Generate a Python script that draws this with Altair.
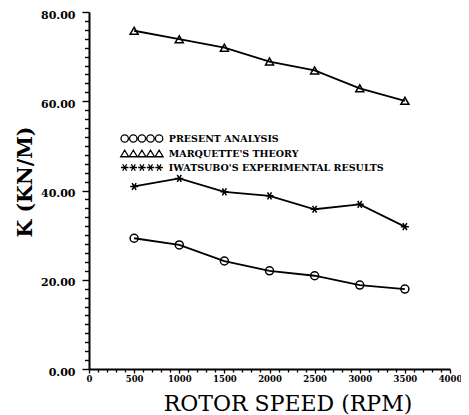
import altair as alt
import pandas as pd

# ---- data ----
rpm = [500, 1000, 1500, 2000, 2500, 3000, 3500]
present = [29.3, 27.8, 24.2, 22.0, 20.9, 18.8, 17.9]
marquette = [75.8, 73.9, 72.0, 68.9, 66.9, 62.9, 60.1]
iwatsubo = [40.9, 42.7, 39.7, 38.8, 35.8, 36.9, 31.9]
series_names = ["PRESENT ANALYSIS", "MARQUETTE'S THEORY", "IWATSUBO'S EXPERIMENTAL RESULTS"]
x_ticks = list(range(0, 4001, 100))   # labelled every 500
y_ticks = list(range(0, 81, 2))       # labelled every 20

rows = []
for name, vals in zip(series_names, [present, marquette, iwatsubo]):
    for r, v in zip(rpm, vals):
        rows.append({"rpm": r, "k": v, "series": name})
df = pd.DataFrame(rows)

# ---- marker shapes ----
asterisk = "M-1,0L1,0M-0.5,-0.87L0.5,0.87M-0.5,0.87L0.5,-0.87"
centers = [0.26 - 1.72 * (4 - k) for k in range(5)]
r = 0.74
leg_circles = "".join(
    f"M{c - r:.2f},0A{r},{r} 0 1,0 {c + r:.2f},0A{r},{r} 0 1,0 {c - r:.2f},0Z" for c in centers)
leg_tris = "".join(
    f"M{c - 0.8:.2f},0.65L{c:.2f},-0.65L{c + 0.8:.2f},0.65Z" for c in centers)
leg_stars = "".join(
    f"M{c - 0.75:.2f},0L{c + 0.75:.2f},0M{c - 0.4:.2f},-0.65L{c + 0.4:.2f},0.65"
    f"M{c - 0.4:.2f},0.65L{c + 0.4:.2f},-0.65" for c in centers)

FONT = "DejaVu Serif"
W, H = 361, 357
xs = alt.Scale(domain=[0, 4000], nice=False)
ys = alt.Scale(domain=[0, 80], nice=False)

x_axis = alt.Axis(
    orient="bottom", values=x_ticks, grid=False,
    labelExpr="datum.value % 500 === 0 ? format(datum.value, 'd') : ''",
    title="ROTOR SPEED (RPM)", titleFont=FONT, titleFontSize=22,
    titleFontWeight="normal", titleColor="black", titleX=198.5, titleY=41,
    titleBaseline="alphabetic", titleAnchor="start", titleAlign="center",
    labelFont=FONT, labelFontSize=8.5, labelFontWeight="bold", labelColor="black",
    labelPadding=1, labelFlush=False, labelOverlap=False,
    tickSize={"condition": {"test": "datum.value % 500 === 0", "value": 4}, "value": 3},
    tickColor="black", tickWidth=1.3,
    domainColor="black", domainWidth=2)
y_axis = alt.Axis(
    orient="left", values=y_ticks, grid=False,
    labelExpr="datum.value % 20 === 0 ? format(datum.value, '.2f') : ''",
    title="K (KN/M)", titleFont=FONT, titleFontSize=20.5, titleFontWeight="bold",
    titleColor="black", titleY=169.5, titlePadding=5,
    labelFont=FONT, labelFontSize=11, labelFontWeight="bold", labelColor="black",
    labelPadding=7, labelOffset=3, labelFlush=False, labelOverlap=False,
    tickSize={"condition": {"test": "datum.value % 20 === 0", "value": 7}, "value": 4.5},
    tickColor="black", tickWidth=1.4,
    domainColor="black", domainWidth=2)

X = alt.X("rpm:Q", scale=xs, axis=x_axis)
Y = alt.Y("k:Q", scale=ys, axis=y_axis)

base = alt.Chart(df)

lines = base.mark_line(color="black", strokeWidth=1.8).encode(x=X, y=Y, detail="series:N")

points = base.mark_point(filled=False, color="black", strokeWidth=1.5, size=64, opacity=1).encode(
    x=X, y=Y,
    shape=alt.Shape("series:N", scale=alt.Scale(domain=series_names,
                    range=["circle", "triangle-up", asterisk]), legend=None),
)

legend_layer = base.mark_point(filled=False, color="black", opacity=0, size=100).encode(
    x=X, y=Y,
    shape=alt.Shape("series:N", scale=alt.Scale(domain=series_names,
                    range=[leg_circles, leg_tris, leg_stars]),
                    legend=alt.Legend(
                        title=None, orient="none", legendX=62.8, legendY=120.5,
                        symbolSize=100, symbolOpacity=1, symbolStrokeColor="black",
                        symbolStrokeWidth=1.3, symbolFillColor="transparent",
                        symbolOffset=0, padding=0, rowPadding=2,
                        labelFont=FONT, labelFontSize=9.5, labelFontWeight="bold",
                        labelColor="black", labelOffset=5, labelLimit=400)),
)

chart = alt.layer(lines, points, legend_layer).resolve_scale(
    shape="independent"
).properties(
    width=W, height=H,
    autosize=alt.AutoSizeParams(type="none"),
    padding={"left": 81, "top": 4, "right": 11, "bottom": 46},
).configure_view(stroke=None)

chart.save("out.html", embed_options={"renderer": "svg", "actions": False})
